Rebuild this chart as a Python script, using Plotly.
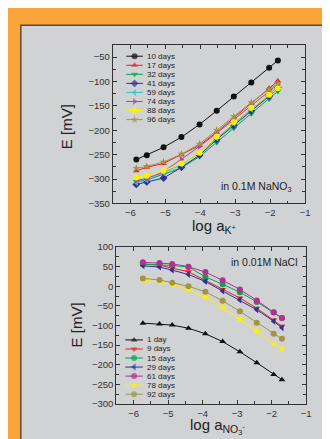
import plotly.graph_objects as go

# ---------------- data ----------------
x_k = [-5.83, -5.53, -5.05, -4.54, -4.02, -3.53, -3.04, -2.54, -2.03, -1.78]
top_names = ["10 days", "17 days", "32 days", "41 days", "59 days", "74 days", "88 days", "96 days"]
d10 = [-260, -251, -235, -214, -188, -160, -131, -102, -72, -57]
d17 = [-283, -276, -268, -250, -231, -204, -175, -145, -114, -99]
d32 = [-305, -302, -290, -277, -254, -225, -196, -166, -136, -120]
d41 = [-311, -306, -298, -276, -251, -219, -190, -160, -130, -113]
d59 = [-307, -302, -287, -270, -246, -216, -186, -157, -127, -110]
d74 = [-303, -299, -285, -260, -233, -206, -178, -148, -119, -106]
d88 = [-297, -293, -283, -268, -246, -213, -183, -154, -127, -114]
d96 = [-278, -274, -265, -249, -228, -200, -172, -143, -116, -104]
top_values = [d10, d17, d32, d41, d59, d74, d88, d96]

x_n = [-5.73, -5.25, -4.88, -4.41, -3.92, -3.42, -2.92, -2.43, -1.94, -1.70]
bot_names = ["1 day", "9 days", "15 days", "29 days", "61 days", "78 days", "92 days"]
b1 = [-94, -96, -99, -107, -121, -141, -167, -195, -225, -238]
b9 = [57, 54, 46, 37, 15, -8, -30, -56, -86, -102]
b15 = [56, 55, 53, 49, 24, 5, -15, -40, -67, -81]
b29 = [52, 49, 41, 30, 12, -12, -35, -60, -89, -106]
b61 = [61, 59, 57, 50, 36, 15, -8, -36, -66, -81]
b78 = [16, 11, 4, -9, -28, -55, -84, -115, -147, -159]
b92 = [20, 16, 9, 0, -14, -37, -64, -93, -121, -134]
bot_values = [b1, b9, b15, b29, b61, b78, b92]

# ---------------- styles ----------------
top_colors = ["#111111", "#ee1c24", "#00a651", "#2e3192", "#38c0c0", "#b2459a", "#fff200", "#a39540"]
top_symbols = ["circle", "triangle-up", "triangle-down", "diamond", "triangle-left",
               "triangle-right", "circle", "star"]
bot_colors = ["#111111", "#ee1c24", "#00a651", "#2e3192", "#b2318f", "#fff200", "#a39540"]
bot_symbols = ["triangle-up", "triangle-down", "circle", "triangle-left", "circle", "star", "circle"]

W, H = 330, 439
FONT = "Liberation Sans, Arial, sans-serif"
AX = "#333333"
ORANGE = "#F9A53A"
GREY = "#D1D2D4"


def px(xp):
    return xp / W


def py(yp):
    return 1 - yp / H


fig = go.Figure()

for name, vals, c, s in zip(top_names, top_values, top_colors, top_symbols):
    fig.add_trace(go.Scatter(x=x_k, y=vals, name=name, mode="lines+markers",
                             line=dict(color=c, width=1),
                             marker=dict(color=c, symbol=s, size=6, line=dict(width=0)),
                             xaxis="x", yaxis="y", showlegend=False))

for name, vals, c, s in zip(bot_names, bot_values, bot_colors, bot_symbols):
    fig.add_trace(go.Scatter(x=x_n, y=vals, name=name, mode="lines+markers",
                             line=dict(color=c, width=1),
                             marker=dict(color=c, symbol=s, size=6, line=dict(width=0)),
                             xaxis="x2", yaxis="y2", showlegend=False))

# custom compact legends (swatches on helper axes)
annotations = []
for i, (name, c, s) in enumerate(zip(top_names, top_colors, top_symbols)):
    fig.add_trace(go.Scatter(x=[0, 0.5, 1], y=[i, i, i], mode="lines+markers",
                             line=dict(color=c, width=1),
                             marker=dict(color=c, symbol=s, size=[0, 6, 0], line=dict(width=0)),
                             xaxis="x3", yaxis="y3", showlegend=False, hoverinfo="skip"))
    annotations.append(dict(x=1, y=i, xref="x3", yref="y3", text=name, showarrow=False,
                            xanchor="left", yanchor="middle", xshift=2,
                            font=dict(family=FONT, size=8, color="#222")))
for i, (name, c, s) in enumerate(zip(bot_names, bot_colors, bot_symbols)):
    fig.add_trace(go.Scatter(x=[0, 0.5, 1], y=[i, i, i], mode="lines+markers",
                             line=dict(color=c, width=1),
                             marker=dict(color=c, symbol=s, size=[0, 6, 0], line=dict(width=0)),
                             xaxis="x4", yaxis="y4", showlegend=False, hoverinfo="skip"))
    annotations.append(dict(x=1, y=i, xref="x4", yref="y4", text=name, showarrow=False,
                            xanchor="left", yanchor="middle", xshift=2,
                            font=dict(family=FONT, size=8, color="#222")))

axis_common = dict(showline=True, linecolor=AX, linewidth=1.3, mirror="ticks",
                   ticks="inside", ticklen=4, tickwidth=1, tickcolor=AX,
                   showgrid=False, zeroline=False,
                   tickfont=dict(family=FONT, size=9.5, color="#333"),
                   minor=dict(ticks="inside", ticklen=2.5, tickwidth=1, tickcolor=AX))

fig.update_layout(
    width=W, height=H, margin=dict(l=0, r=0, t=0, b=0),
    paper_bgcolor=ORANGE, plot_bgcolor="rgba(0,0,0,0)",
    xaxis=dict(domain=[px(106.5), px(301.7)], range=[-6.5, -1], dtick=1, anchor="y",
               minor_dtick=0.5, **axis_common),
    yaxis=dict(domain=[py(194.3), py(31.7)], range=[-350, -25], dtick=50, anchor="x",
               minor_dtick=25, **axis_common),
    xaxis2=dict(domain=[px(110), px(302.7)], range=[-6.5, -1], dtick=1, anchor="y2",
                minor_dtick=0.5, **axis_common),
    yaxis2=dict(domain=[py(400), py(239)], range=[-300, 100], dtick=50, anchor="x2",
                minor_dtick=25, **axis_common),
    xaxis3=dict(domain=[px(120), px(137)], range=[0, 1], visible=False, anchor="y3"),
    yaxis3=dict(domain=[py(43.3 + 7.5 * 9.29), py(43.3 - 0.5 * 9.29)], range=[7.5, -0.5],
                visible=False, anchor="x3"),
    xaxis4=dict(domain=[px(119), px(137)], range=[0, 1], visible=False, anchor="y4"),
    yaxis4=dict(domain=[py(334.3 + 6.5 * 9.28), py(334.3 - 0.5 * 9.28)], range=[6.5, -0.5],
                visible=False, anchor="x4"),
    showlegend=False,
)

# background panel
fig.add_shape(type="rect", xref="paper", yref="paper", x0=px(13), x1=1.01, y0=-0.01, y1=py(11.5),
              fillcolor=GREY, line=dict(color="#5a4a3a", width=1.5), layer="below")

title_font = dict(family=FONT, size=15, color="#222")
annotations += [
    dict(x=px(59), y=py(116), xref="paper", yref="paper", text="E [mV]", textangle=-90,
         showarrow=False, font=title_font, xanchor="center", yanchor="middle"),
    dict(x=px(70), y=py(318.5), xref="paper", yref="paper", text="E [mV]", textangle=-90,
         showarrow=False, font=title_font, xanchor="center", yanchor="middle"),
    dict(x=px(185), y=py(218), xref="paper", yref="paper", text="log a<sub>K<sup>+</sup></sub>",
         showarrow=False, font=title_font, xanchor="left", yanchor="middle"),
    dict(x=px(183), y=py(423), xref="paper", yref="paper",
         text="log a<sub>NO<sub>3</sub><sup>-</sup></sub>",
         showarrow=False, font=title_font, xanchor="left", yanchor="middle"),
    dict(x=px(214), y=py(177), xref="paper", yref="paper", text="in 0.1M NaNO<sub>3</sub>",
         showarrow=False, font=dict(family=FONT, size=10.5, color="#222"),
         xanchor="left", yanchor="middle"),
    dict(x=px(224), y=py(254.5), xref="paper", yref="paper", text="in 0.01M NaCl",
         showarrow=False, font=dict(family=FONT, size=10.5, color="#222"),
         xanchor="left", yanchor="middle"),
]
fig.update_layout(annotations=annotations)

fig.write_html("out.html")
